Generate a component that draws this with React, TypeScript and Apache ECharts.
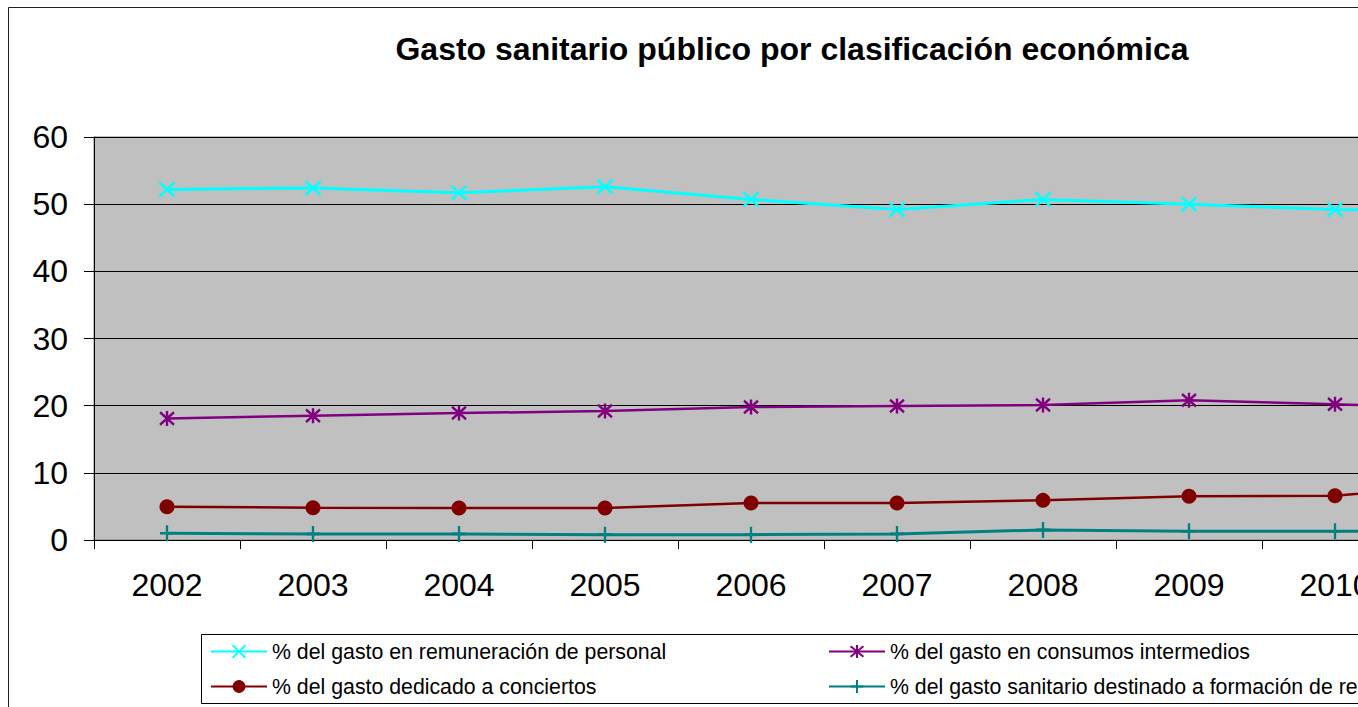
import React, { useEffect, useRef } from "react";
import * as echarts from "echarts";

const years = ["2002", "2003", "2004", "2005", "2006", "2007", "2008", "2009", "2010", "2011"];
const remuneracion = [52.2, 52.4, 51.7, 52.6, 50.7, 49.2, 50.7, 50.0, 49.2, 49.1];
const consumos = [18.1, 18.5, 18.9, 19.2, 19.8, 19.95, 20.1, 20.8, 20.2, 19.6];
const conciertos = [4.95, 4.8, 4.75, 4.75, 5.5, 5.5, 5.9, 6.5, 6.6, 8.5];
const formacion = [1.0, 0.9, 0.9, 0.8, 0.8, 0.9, 1.5, 1.3, 1.3, 1.3];

const names = [
  "% del gasto en remuneración de personal",
  "% del gasto en consumos intermedios",
  "% del gasto dedicado a conciertos",
  "% del gasto sanitario destinado a formación de residentes",
];

const FONT = "Arial, 'Liberation Sans', sans-serif";

export default function App() {
  const ref = useRef<HTMLDivElement>(null);
  useEffect(() => {
    if (!ref.current) return;
    const chart = echarts.init(ref.current, null, { renderer: "svg" });
    const mk = (
      name: string,
      data: number[],
      color: string,
      symbol: string,
      size: number | number[],
      stroke: boolean,
      lw: number
    ) => ({
      name,
      type: "line",
      data,
      color,
      symbol,
      symbolSize: size,
      showSymbol: true,
      lineStyle: { color, width: lw },
      itemStyle: stroke
        ? { color, borderColor: color, borderWidth: 2.5 }
        : { color, borderWidth: 0 },
    });
    const legendText = { fontFamily: FONT, fontSize: 21.3, color: "#000", lineHeight: 16 };
    chart.setOption({
      animation: false,
      textStyle: { fontFamily: FONT },
      title: {
        text: "Gasto sanitario público por clasificación económica",
        left: "center",
        top: 21,
        textStyle: { fontFamily: FONT, fontSize: 32, fontWeight: "bold", color: "#000" },
      },
      graphic: [
        {
          type: "rect",
          shape: { x: 0.5, y: 0.5, width: 1700, height: 900 },
          style: { fill: "none", stroke: "#222", lineWidth: 1 },
          silent: true,
          z: -10,
        },
        {
          type: "rect",
          shape: { x: 193.5, y: 627.5, width: 1400, height: 69 },
          style: { fill: "#fff", stroke: "#000", lineWidth: 1 },
          silent: true,
          z: -5,
        },
      ],
      grid: {
        left: 86,
        top: 130,
        width: 1460,
        height: 403,
        show: true,
        backgroundColor: "#C0C0C0",
        borderColor: "#808080",
        borderWidth: 1,
      },
      legend: [
        {
          data: [names[0], names[2]],
          orient: "vertical",
          left: 202,
          top: 634,
          itemWidth: 56,
          itemHeight: 16,
          itemGap: 14,
          textStyle: legendText,
          padding: 0,
        },
        {
          data: [names[1], names[3]],
          orient: "vertical",
          left: 820,
          top: 634,
          itemWidth: 56,
          itemHeight: 16,
          itemGap: 14,
          textStyle: legendText,
          padding: 0,
        },
      ],
      xAxis: {
        type: "category",
        data: years,
        boundaryGap: true,
        axisLine: { show: true, lineStyle: { color: "#000", width: 1 } },
        axisTick: { show: true, alignWithLabel: false, length: 9, lineStyle: { color: "#000" } },
        axisLabel: { fontFamily: FONT, fontSize: 32, color: "#000", margin: 29 },
        splitLine: { show: false },
      },
      yAxis: {
        type: "value",
        min: 0,
        max: 60,
        interval: 10,
        axisLine: { show: true, lineStyle: { color: "#000", width: 1 } },
        axisTick: { show: true, length: 10, lineStyle: { color: "#000" } },
        axisLabel: { fontFamily: FONT, fontSize: 32, color: "#000", margin: 26 },
        splitLine: { show: true, lineStyle: { color: "#000", width: 1 } },
      },
      series: [
        mk(names[0], remuneracion, "#00FFFF", "path://M0,0L10,10M10,0L0,10", [15, 14], true, 3),
        mk(names[1], consumos, "#800080", "path://M0,0L10,10M10,0L0,10M5,-1L5,11", [14, 15], true, 2.5),
        mk(names[2], conciertos, "#800000", "circle", 15, false, 2.5),
        mk(names[3], formacion, "#008080", "path://M5,0L5,10M0,5L10,5", [14, 16], true, 3),
      ],
    });
    return () => chart.dispose();
  }, []);
  return (
    <div
      style={{
        position: "fixed",
        left: 0,
        top: 0,
        width: 1358,
        height: 707,
        overflow: "hidden",
        background: "#fff",
      }}
    >
      <div
        ref={ref}
        style={{ position: "absolute", left: 8, top: 7, width: 1568, height: 720 }}
      />
    </div>
  );
}
